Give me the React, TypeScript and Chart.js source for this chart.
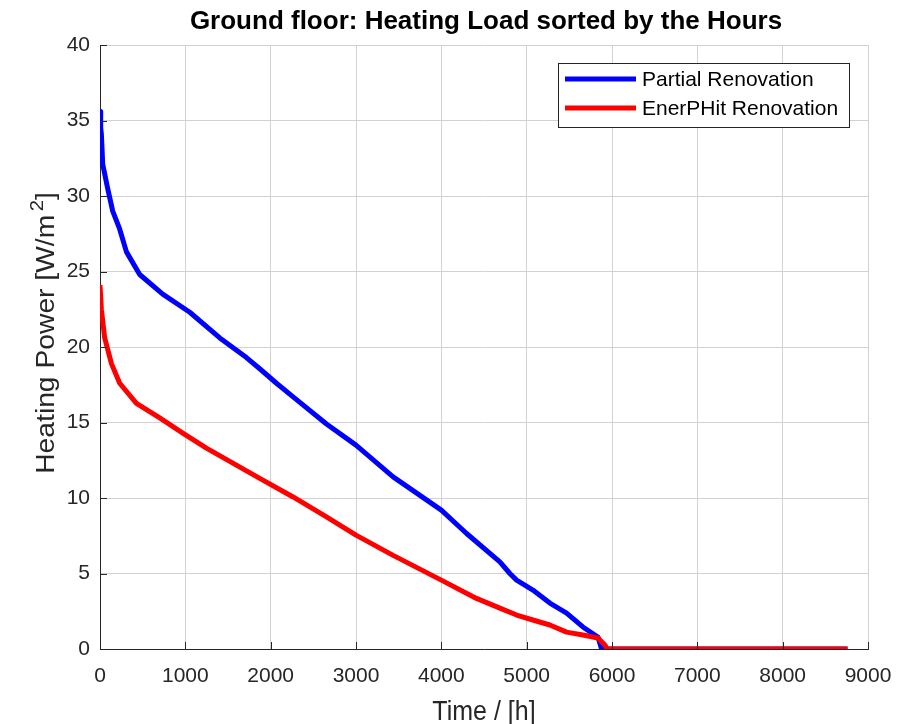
import React, { useEffect, useRef } from "react";
import { Chart, registerables } from "chart.js";

Chart.register(...registerables);

const chartTitle = "Ground floor: Heating Load sorted by the Hours";
const xAxisTitle = "Time / [h]";
const yAxisTitleMain = "Heating Power [W/m";
const yAxisTitleSup = "2";
const yAxisTitleEnd = "]";
const seriesNames = ["Partial Renovation", "EnerPHit Renovation"];
const seriesColors = ["#0000ff", "#ff0000"];

const partialHours = [0, 8, 16, 32, 90, 149, 231, 310, 465, 735, 1052, 1404, 1716, 1872, 2068, 2263, 2654, 3000, 3435, 4000, 4296, 4686, 4803, 4882, 5073, 5272, 5468, 5659, 5835, 5878, 5900, 8760];
const partialValues = [35.6, 34.5, 34.1, 32.1, 30.5, 29.0, 27.8, 26.3, 24.8, 23.5, 22.3, 20.6, 19.3, 18.56, 17.6, 16.7, 14.9, 13.5, 11.4, 9.2, 7.65, 5.77, 5.0, 4.56, 3.9, 3.04, 2.38, 1.46, 0.79, 0, 0, 0];

const enerphitHours = [0, 16, 55, 134, 231, 427, 700, 970, 1247, 1872, 2263, 2654, 3000, 3435, 4000, 4412, 4686, 4882, 5073, 5272, 5468, 5659, 5835, 5917, 5945, 8760];
const enerphitValues = [24.1, 22.5, 20.6, 18.9, 17.6, 16.27, 15.3, 14.3, 13.3, 11.3, 10.07, 8.75, 7.54, 6.2, 4.56, 3.35, 2.71, 2.25, 1.92, 1.59, 1.12, 0.93, 0.73, 0.26, 0, 0];

const xTickValues = [0, 1000, 2000, 3000, 4000, 5000, 6000, 7000, 8000, 9000];
const yTickValues = [0, 5, 10, 15, 20, 25, 30, 35, 40];

const FONT = '"Liberation Sans", Arial, Helvetica, sans-serif';
const AXIS_COLOR = "#262626";
const GRID_COLOR = "#d2d2d2";

const decorPlugin = {
  id: "decor",
  afterDraw(chart: any) {
    const { ctx, chartArea: a, scales } = chart;
    ctx.save();
    // inward tick marks
    ctx.strokeStyle = AXIS_COLOR;
    ctx.lineWidth = 1;
    xTickValues.forEach((v) => {
      const x = Math.round(scales.x.getPixelForValue(v)) + 0.5;
      ctx.beginPath();
      ctx.moveTo(x, a.bottom);
      ctx.lineTo(x, a.bottom - 7);
      ctx.stroke();
    });
    yTickValues.forEach((v) => {
      const y = Math.round(scales.y.getPixelForValue(v)) + 0.5;
      ctx.beginPath();
      ctx.moveTo(a.left, y);
      ctx.lineTo(a.left + 7, y);
      ctx.stroke();
    });

    // title
    ctx.fillStyle = "#000";
    ctx.font = `bold 26px ${FONT}`;
    ctx.textAlign = "center";
    ctx.textBaseline = "alphabetic";
    ctx.fillText(chartTitle, (a.left + a.right) / 2 + 2, 29);

    // x axis title (slightly stretched vertically like the reference)
    ctx.save();
    ctx.fillStyle = AXIS_COLOR;
    ctx.font = `25px ${FONT}`;
    ctx.translate((a.left + a.right) / 2, 720);
    ctx.scale(1, 1.1);
    ctx.fillText(xAxisTitle, 0, 0);
    ctx.restore();

    // y axis title (rotated, stretched along its length)
    ctx.save();
    ctx.fillStyle = AXIS_COLOR;
    ctx.translate(54, (a.top + a.bottom) / 2 - 14);
    ctx.rotate(-Math.PI / 2);
    ctx.scale(1.13, 1);
    ctx.textAlign = "left";
    ctx.font = `25px ${FONT}`;
    const wMain = ctx.measureText(yAxisTitleMain).width;
    const wEnd = ctx.measureText(yAxisTitleEnd).width;
    ctx.font = `18px ${FONT}`;
    const wSup = ctx.measureText(yAxisTitleSup).width;
    const gap = 3;
    const total = wMain + gap + wSup + wEnd;
    let sx = -total / 2;
    ctx.font = `25px ${FONT}`;
    ctx.fillText(yAxisTitleMain, sx, 0);
    sx += wMain + gap;
    ctx.font = `18px ${FONT}`;
    ctx.fillText(yAxisTitleSup, sx, -11);
    sx += wSup;
    ctx.font = `25px ${FONT}`;
    ctx.fillText(yAxisTitleEnd, sx, 0);
    ctx.restore();

    // legend
    const bx = 558.5, by = 63.5, bw = 291, bh = 64;
    ctx.fillStyle = "#fff";
    ctx.fillRect(bx, by, bw, bh);
    ctx.strokeStyle = AXIS_COLOR;
    ctx.lineWidth = 1;
    ctx.strokeRect(bx, by, bw, bh);
    const rows = [79, 108];
    chart.data.datasets.forEach((ds: any, i: number) => {
      const y = rows[i];
      ctx.strokeStyle = ds.borderColor;
      ctx.lineWidth = 5;
      ctx.lineCap = "butt";
      ctx.beginPath();
      ctx.moveTo(565, y);
      ctx.lineTo(636, y);
      ctx.stroke();
      ctx.fillStyle = "#000";
      ctx.font = `21px ${FONT}`;
      ctx.textAlign = "left";
      ctx.textBaseline = "middle";
      ctx.fillText(ds.label, 642, y + 1);
    });
    ctx.restore();
  },
};

export default function App() {
  const canvasRef = useRef<HTMLCanvasElement | null>(null);

  useEffect(() => {
    const canvas = canvasRef.current;
    if (!canvas) return;
    const chart = new Chart(canvas, {
      type: "line",
      data: {
        datasets: [
          {
            label: seriesNames[0],
            data: partialHours.map((h, i) => ({ x: h, y: partialValues[i] })),
            borderColor: seriesColors[0],
            backgroundColor: seriesColors[0],
            borderWidth: 5,
            pointRadius: 0,
            tension: 0,
            borderJoinStyle: "round",
            order: 1,
          },
          {
            label: seriesNames[1],
            data: enerphitHours.map((h, i) => ({ x: h, y: enerphitValues[i] })),
            borderColor: seriesColors[1],
            backgroundColor: seriesColors[1],
            borderWidth: 5,
            pointRadius: 0,
            tension: 0,
            borderJoinStyle: "round",
            order: 0,
          },
        ],
      },
      options: {
        animation: false,
        responsive: false,
        devicePixelRatio: 1,
        events: [],
        layout: { padding: { top: 45, right: 39, left: 0, bottom: 0 } },
        plugins: {
          legend: { display: false },
          title: { display: false },
          tooltip: { enabled: false },
        },
        scales: {
          x: {
            type: "linear",
            min: 0,
            max: 9000,
            afterFit: (s: any) => {
              s.height = 75;
            },
            afterBuildTicks: (s: any) => {
              s.ticks = xTickValues.map((v) => ({ value: v }));
            },
            ticks: {
              color: AXIS_COLOR,
              font: { family: FONT, size: 21 },
              padding: 15,
              maxRotation: 0,
              autoSkip: false,
              callback: (v: any) => String(v),
            },
            grid: { color: GRID_COLOR, drawTicks: false, tickLength: 0, lineWidth: 1 },
            border: { color: AXIS_COLOR, width: 1 },
          },
          y: {
            type: "linear",
            min: 0,
            max: 40,
            afterFit: (s: any) => {
              s.width = 100;
            },
            afterBuildTicks: (s: any) => {
              s.ticks = yTickValues.map((v) => ({ value: v }));
            },
            ticks: {
              color: AXIS_COLOR,
              font: { family: FONT, size: 21 },
              padding: 10,
              autoSkip: false,
              callback: (v: any) => String(v),
            },
            grid: { color: GRID_COLOR, drawTicks: false, tickLength: 0, lineWidth: 1 },
            border: { color: AXIS_COLOR, width: 1 },
          },
        },
      },
      plugins: [decorPlugin],
    });
    return () => chart.destroy();
  }, []);

  return (
    <div style={{ position: "absolute", left: 0, top: 0, width: 907, height: 724, background: "#fff" }}>
      <canvas ref={canvasRef} width={907} height={724} style={{ display: "block" }} />
    </div>
  );
}
